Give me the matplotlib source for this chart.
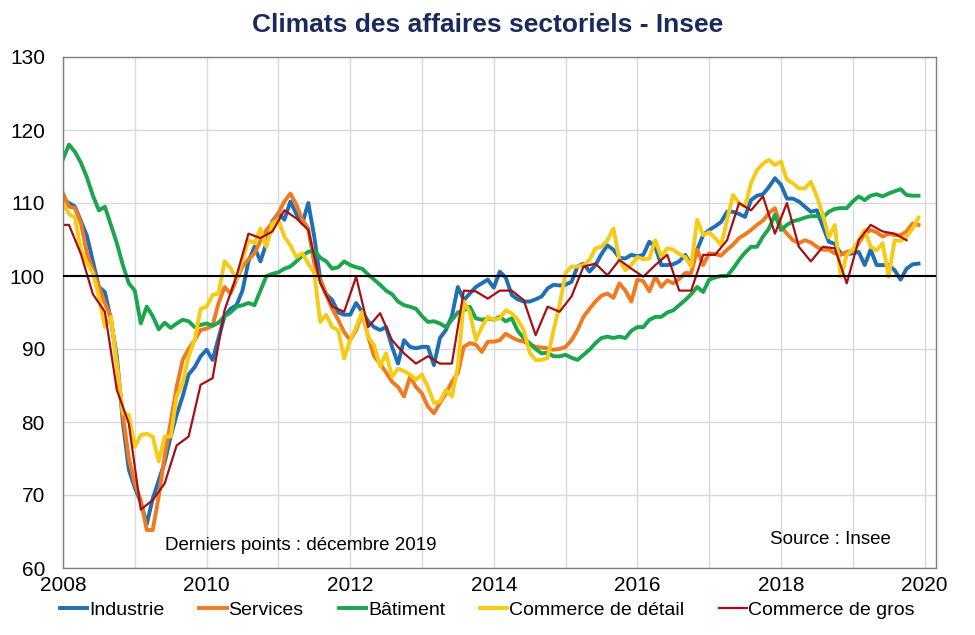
"""
Climats des affaires sectoriels - Insee (2008-2019)
"""

import matplotlib
matplotlib.use("Agg")
import matplotlib.pyplot as plt
import numpy as np


# monthly values, Jan 2008 -> Dec 2019
industrie = [
    110.5, 110, 109.5, 107.5, 105.5, 102, 98.5, 97.8, 94, 89, 80, 73.5,
    71, 69, 66, 69.5, 72, 74.5, 78, 81, 83.5, 86.5, 87.5, 89,
    89.9, 88.5, 91.5, 94.5, 95.5, 96, 98, 102, 104, 102, 104.5, 107.5,
    108.6, 107.7, 110.2, 108.5, 107.2, 110, 105.4, 99.5, 97.5, 96.7, 95, 94.7,
    94.7, 96.3, 95.1, 93.8, 93, 92.6, 93, 90.3, 88, 91.2, 90.3, 90.1,
    90.3, 90.3, 87.8, 91.5, 92.6, 94.5, 98.5, 96.7, 97.6, 98.5, 99, 99.5,
    98.4, 100.6, 99.8, 97.4, 96.8, 96.5, 96.5, 96.8, 97.2, 98.3, 98.8, 98.7,
    98.8, 99.2, 101.3, 101.7, 100.6, 101.5, 103, 104.2, 103.6, 102.5, 102.4, 102.9,
    102.7, 102.9, 104.7, 104, 101.5, 101.5, 101.6, 102, 102.9, 101.5, 103.6, 105.6,
    106.3, 106.8, 107.4, 108.8, 108.8, 108.5, 108.1, 110.4, 111, 111.2, 112.2, 113.4,
    112.5, 110.6, 110.6, 110.2, 109.5, 108.8, 109, 106.8, 104.7, 104.4, 103.1, 103,
    103.1, 103.3, 101.5, 103.6, 101.5, 101.5, 101.5, 100.8, 99.5, 101, 101.6, 101.7,
]

services = [
    111.3, 109.5, 109.3, 107.2, 103.1, 100.8, 98.5, 96.3, 94.4, 88, 81, 75,
    71.6, 69.3, 65.2, 65.2, 69.8, 75.3, 80, 84.8, 88.5, 90, 91.2, 92.6,
    92.8, 93.2, 96.3, 98.5, 97.6, 99.5, 101.3, 102.3, 103.1, 104.8, 106.3, 107.3,
    108.6, 110.2, 111.3, 109.8, 107.7, 106.5, 101.7, 99.5, 97.4, 95.5, 94, 92.3,
    91.2, 92.6, 94.9, 91.7, 89, 88, 86.8, 85.5, 84.8, 83.5, 86.2, 84.8,
    83.9, 82.1, 81.2, 82.6, 83.9, 85.5, 86.7, 90.3, 90.8, 90.6, 89.6, 91,
    91, 91.2, 92.1, 91.6, 91.2, 91, 90.6, 90.3, 90.2, 90.1, 89.9, 90,
    90.3, 91.2, 92.6, 94.4, 95.5, 96.5, 97.3, 97.6, 97, 99, 98, 96.5,
    99.5, 99.3, 97.9, 99.9, 98.5, 99.4, 99, 99.6, 100.4, 100.4, 103.6, 101.5,
    103.1, 103, 102.8, 103.6, 104.3, 105.2, 105.7, 106.3, 107, 107.6, 108.6, 109.3,
    106.8, 105.8, 104.9, 104.5, 104.9, 104.6, 104, 103.6, 103.6, 103.1, 102.9, 103.3,
    103.4, 104.5, 105.8, 106.3, 106, 105.4, 105.8, 105.6, 105.6, 106.1, 107.2, 107,
]

batiment = [
    116, 118, 117, 115.5, 113.5, 111, 109, 109.5, 107, 104.5, 101.5, 99,
    98, 93.5, 95.8, 94.5, 92.7, 93.6, 92.9, 93.5, 94, 93.8, 93, 93.3,
    93.5, 93.2, 93.6, 94.5, 95, 95.8, 96, 96.3, 96, 98, 100, 100.3,
    100.5, 101, 101.3, 102, 102.8, 103.3, 103.5, 102.5, 102, 101, 101.2, 102,
    101.5, 101.2, 101, 100.2, 99.5, 98.8, 98, 97.5, 96.5, 96, 95.8, 95.5,
    94.5, 93.7, 93.8, 93.5, 93, 94, 95, 95.3, 95.8, 94.2, 94, 94.2,
    94, 94.4, 93.8, 94.2, 92.5, 91.5, 90.8, 90, 89.4, 89.5, 89, 89,
    89.2, 88.8, 88.5, 89.2, 89.9, 90.8, 91.5, 91.7, 91.5, 91.7, 91.5, 92.5,
    93, 93, 94, 94.4, 94.4, 95, 95.3, 96, 96.7, 97.5, 98.5, 97.8,
    99.5, 99.8, 100, 100, 101, 102.2, 103.2, 104, 104, 105.4, 106.5, 108.4,
    106.3, 107, 107.5, 107.7, 108, 108.2, 108.2, 108, 108.8, 109.2, 109.3, 109.3,
    110.2, 110.9, 110.4, 111, 111.2, 110.9, 111.3, 111.6, 111.9, 111.1, 111, 111,
]

detail = [
    110, 108.5, 108, 103.5, 101.8, 100.4, 97.2, 93, 94.4, 88, 81.2, 81,
    76.6, 78.2, 78.4, 78, 74.6, 78, 78, 83.5, 85.3, 89, 91.2, 95.5,
    95.8, 97.4, 97.6, 102, 101.1, 99.5, 102.3, 104.9, 104.5, 106.5, 104, 107.2,
    107.7, 105.4, 104.2, 102.6, 103.1, 101.7, 100.4, 93.7, 94.7, 93, 92.6, 88.7,
    91.2, 93, 95.1, 91.7, 90.5, 87.6, 89.4, 86.2, 87.3, 87, 86.5, 85.8,
    86.5, 84.8, 82.6, 82.8, 84.4, 83.5, 87.6, 96.5, 95, 91.2, 93, 94.4,
    94, 94.2, 95.3, 94.9, 94, 92.6, 89.5, 88.5, 88.5, 88.8, 92.6, 96,
    100.4, 101.3, 101.3, 101.5, 102.2, 103.8, 104, 104.9, 106.5, 102.2, 100.8, 101.5,
    102.6, 102.3, 102.4, 104.9, 102.6, 103.8, 103.6, 103, 102.6, 101.3, 107.7, 105.6,
    106, 105.2, 104.2, 107.7, 111.1, 110, 109.5, 112.7, 114.5, 115.4, 115.9, 115.2,
    115.7, 113.2, 112.7, 112, 112, 112.9, 110.9, 108.4, 105.3, 107, 99.9, 102.9,
    103.6, 104.9, 106.3, 104, 103.5, 104.5, 99.9, 104.9, 104.8, 105.4, 106.5, 108,
]

# bimonthly values, Dec 2007 -> Nov 2019
gros = [
    107, 107, 103, 97.5, 95.1, 84.4, 79.8, 68, 69.3, 71.6, 76.8, 78,
    85.1, 86, 95.3, 100, 105.8, 105.2, 106.1, 109, 107.9, 106.3, 99, 95.8,
    95.1, 99.9, 93, 94.9, 91.2, 89.4, 88, 89, 88, 88, 98, 97.9,
    96.9, 98, 98, 96.7, 91.9, 95.8, 95.1, 97.2, 101.3, 101.7, 100.1, 102.2,
    101, 99.9, 101.5, 102.9, 98, 98, 102.9, 102.9, 104.9, 110, 109, 110.9,
    105.8, 110, 104, 102, 104, 103.8, 99, 104.9, 107, 106.1, 105.8, 104.9,
]

series_names = ["Industrie", "Services", "Bâtiment",
                "Commerce de détail", "Commerce de gros"]
colors = ["#1F6FB5", "#F07A1E", "#1BA64E", "#F7CB15", "#A50F15"]

months = 2008 + np.arange(len(industrie)) / 12.0
months_gros = 2008 + (np.arange(len(gros)) * 2 - 1) / 12.0

plt.rcParams['font.family'] = ['Liberation Sans', 'DejaVu Sans']

fig = plt.figure(figsize=(9.75, 6.35), dpi=100)
ax = fig.add_axes([63 / 975, 1 - 568 / 635, (936 - 63) / 975, (568 - 57) / 635])

for vals, x, name, c in zip([industrie, services, batiment, detail, gros],
                            [months] * 4 + [months_gros],
                            series_names, colors):
    lw = 1.6 if name == "Commerce de gros" else 2.8
    ax.plot(x, vals, color=c, lw=lw, label=name)

ax.axhline(100, color='black', lw=1.5, zorder=5)

ax.set_xlim(2008, 2020.16)
ax.set_ylim(60, 130)
ax.set_yticks(np.arange(60, 131, 10))
ax.set_xticks(np.arange(2008, 2021, 1))
ax.set_xticklabels([str(y) if y % 2 == 0 else '' for y in range(2008, 2021)])
ax.tick_params(length=0, labelsize=15)
ax.tick_params(axis='y', pad=13)
ax.tick_params(axis='x', pad=6)
ax.grid(True, color='#D9D9D9', lw=1)
ax.set_axisbelow(True)
for s in ax.spines.values():
    s.set_color('#7F7F7F')
    s.set_linewidth(1)

fig.text(0.5, 1 - 25 / 635, "Climats des affaires sectoriels - Insee",
         ha='center', va='center', fontsize=19, fontweight='bold', color='#1B2A5C')
fig.text(165 / 975, 1 - 545 / 635, "Derniers points : décembre 2019",
         fontsize=13.5, va='center')
fig.text(770 / 975, 1 - 540 / 635, "Source : Insee", fontsize=13.5, va='center')

fig.legend(loc='center', bbox_to_anchor=(0.5, 1 - 610 / 635), ncol=5,
           frameon=False, fontsize=14, handlelength=1.4, handletextpad=0.1,
           columnspacing=1.8)

fig.savefig("out.png", dpi=100)
